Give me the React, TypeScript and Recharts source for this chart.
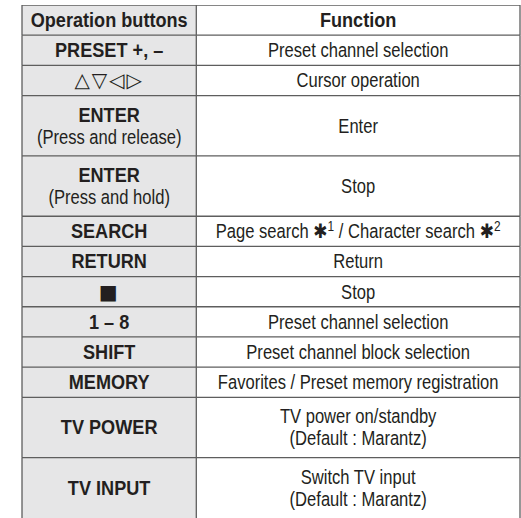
import React from "react"
import { BarChart, Bar, XAxis, YAxis } from "recharts"

// table contents, one entry per row (top to bottom)
const buttons = [
  "Operation buttons",
  "PRESET +, –",
  "△▽◁▷",
  "ENTER",
  "ENTER",
  "SEARCH",
  "RETURN",
  "■",
  "1 – 8",
  "SHIFT",
  "MEMORY",
  "TV POWER",
  "TV INPUT",
]

const buttonNotes = ["", "", "", "(Press and release)", "(Press and hold)", "", "", "", "", "", "", "", ""]

const functions = [
  ["Function"],
  ["Preset channel selection"],
  ["Cursor operation"],
  ["Enter"],
  ["Stop"],
  ["Page search ✱1 / Character search ✱2"],
  ["Return"],
  ["Stop"],
  ["Preset channel selection"],
  ["Preset channel block selection"],
  ["Favorites / Preset memory registration"],
  ["TV power on/standby", "(Default : Marantz)"],
  ["Switch TV input", "(Default : Marantz)"],
]

// height of each row, in text lines
const rowSpans = [1, 1, 1, 2, 2, 1, 1, 1, 1, 1, 1, 2, 2]

const totalUnits = rowSpans.reduce((a, b) => a + b, 0)

const tableData = [
  rowSpans.reduce(
    (acc, span, i) => ({ ...acc, [`r${i}`]: span }),
    { name: "table" } as Record<string, string | number>
  ),
]

const FONT = "'Liberation Sans', Arial, sans-serif"
const INK = "#231f20"
const RULE = "#5e5e5e"
const SHADE = "#e6e6e7"
const LEFT_SHARE = 0.35
const LINE_GAP = 22
const FONT_SIZE = 19.5
// no narrow font is installed, so the text is squeezed sideways instead
const SQUEEZE_REGULAR = 0.85
const SQUEEZE_BOLD = 0.93

// turns "✱1" markers into a heavy asterisk with a raised number
const renderRich = (text: string) => {
  const parts = text.split(/(✱\d)/).filter(Boolean)
  const out: React.ReactNode[] = []
  let raised = false
  parts.forEach((p, k) => {
    const m = p.match(/^✱(\d)$/)
    if (m) {
      out.push(
        <tspan key={`a${k}`} fontSize={20} dy={raised ? 7 : undefined} fontFamily="'DejaVu Sans', sans-serif">
          ✱
        </tspan>
      )
      out.push(
        <tspan key={`n${k}`} fontSize={14} dy={-7}>
          {m[1]}
        </tspan>
      )
      raised = true
    } else {
      out.push(
        <tspan key={`t${k}`} dy={raised ? 7 : undefined}>
          {p}
        </tspan>
      )
      raised = false
    }
  })
  return out
}

const CellText = ({ cx, cy, text, bold }: { cx: number; cy: number; text: string; bold: boolean }) => {
  const symbols = !/[A-Za-z0-9]/.test(text)
  const squeeze = symbols ? 1 : bold ? SQUEEZE_BOLD : SQUEEZE_REGULAR
  return (
    <text
      transform={`translate(${cx} ${cy}) scale(${squeeze} 1)`}
      x={0}
      y={FONT_SIZE * 0.35}
      textAnchor="middle"
      fontFamily={symbols ? "'DejaVu Sans', sans-serif" : FONT}
      fontSize={symbols ? 20 : FONT_SIZE}
      letterSpacing={symbols ? 2 : 0}
      fontWeight={bold ? 700 : 400}
      fill={INK}
    >
      {renderRich(text)}
    </text>
  )
}

const RowCell = (props: any) => {
  const { x, y, width, height, index } = props
  const top = Math.min(y, y + height)
  const h = Math.abs(height)
  const left = Math.min(x, x + width)
  const w = Math.abs(width)
  const lw = w * LEFT_SHARE
  const cy = top + h / 2

  const leftLines = [buttons[index], buttonNotes[index]].filter(Boolean)
  const rightLines = functions[index]
  const header = index === 0

  const lineY = (i: number, n: number) => cy + (i - (n - 1) / 2) * LINE_GAP

  return (
    <g>
      <rect x={left} y={top} width={lw} height={h} fill={SHADE} />
      <rect x={left + lw} y={top} width={w - lw} height={h} fill="#ffffff" />
      <line x1={left} x2={left + w} y1={top} y2={top} stroke={RULE} strokeWidth={1.3} />
      <line x1={left} x2={left} y1={top} y2={top + h} stroke={RULE} strokeWidth={1.3} />
      <line x1={left + lw} x2={left + lw} y1={top} y2={top + h} stroke={RULE} strokeWidth={1.3} />
      <line x1={left + w} x2={left + w} y1={top} y2={top + h} stroke={RULE} strokeWidth={1.3} />
      {leftLines.map((t, i) => (
        <CellText key={`l${i}`} cx={left + lw / 2} cy={lineY(i, leftLines.length)} text={t} bold={i === 0} />
      ))}
      {rightLines.map((t, i) => (
        <CellText
          key={`r${i}`}
          cx={left + lw + (w - lw) / 2}
          cy={lineY(i, rightLines.length)}
          text={t}
          bold={header}
        />
      ))}
    </g>
  )
}

export default function App() {
  return (
    <div
      style={{
        position: "absolute",
        left: 0,
        top: 0,
        width: 521,
        height: 518,
        overflow: "hidden",
        background: "#ffffff",
      }}
    >
      <BarChart
        width={521}
        height={518}
        data={tableData}
        margin={{ top: 5, right: 1, left: 22, bottom: 0 }}
        barCategoryGap={0}
        barGap={0}
      >
        <XAxis dataKey="name" hide />
        <YAxis type="number" domain={[0, totalUnits]} reversed hide allowDataOverflow />
        {rowSpans.map((_, i) => (
          <Bar
            key={`r${i}`}
            dataKey={`r${i}`}
            stackId="table"
            isAnimationActive={false}
            shape={(p: any) => <RowCell {...p} index={i} />}
          />
        ))}
      </BarChart>
    </div>
  )
}
